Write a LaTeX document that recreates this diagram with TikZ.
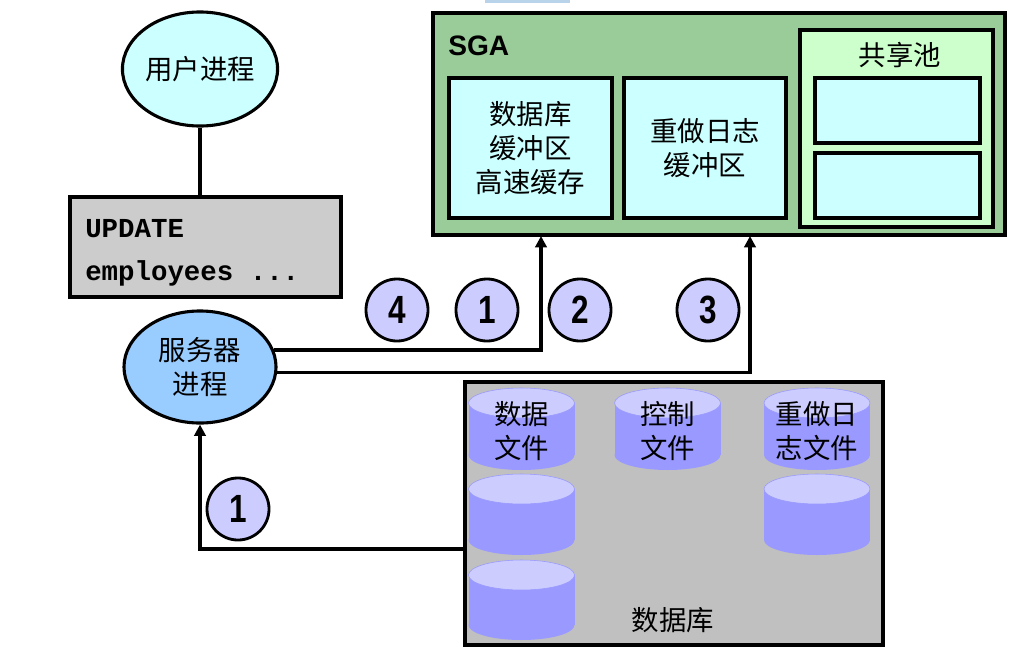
\documentclass[tikz,border=0pt]{standalone}
\usepackage{fontspec}
\setmainfont{Noto Sans CJK SC}
\newfontfamily\sgafont{Liberation Sans}
\newfontfamily\codefont{Liberation Mono}
\newfontfamily\numfont[FakeStretch=0.8]{Liberation Sans}
\usetikzlibrary{shapes.geometric,arrows.meta}

\definecolor{sgagreen}{HTML}{99CC99}
\definecolor{bufcyan}{HTML}{CCFFFF}
\definecolor{poolgreen}{HTML}{CCFFCC}
\definecolor{srvblue}{HTML}{99CCFF}
\definecolor{stepblue}{HTML}{CCCCFF}
\definecolor{diskbody}{HTML}{9999FF}
\definecolor{disktop}{HTML}{CCCCFF}
\definecolor{dbgray}{HTML}{C0C0C0}
\definecolor{topbar}{HTML}{B8D3EA}

% one data file drum: centre x, top y, bottom y (pixel units)
\newcommand{\dbdisk}[3]{%
  \fill[diskbody] (#1,#3-15) ellipse[x radius=53, y radius=15];
  \fill[diskbody] (#1-53,#2+15) rectangle (#1+53,#3-15);
  \filldraw[fill=disktop, draw=diskbody, thin] (#1,#2+15) ellipse[x radius=53, y radius=15];}

\begin{document}
\begin{tikzpicture}[x=0.025cm, y=-0.025cm,
  every node/.style={font=\fontsize{19.5}{24}\selectfont, align=center},
  proc/.style={ellipse, draw, line width=2.2pt, inner sep=0pt},
  buf/.style={draw, line width=2.8pt, fill=bufcyan, inner sep=0pt},
  stepno/.style={circle, draw, line width=2pt, fill=stepblue, minimum size=1.55cm, inner sep=0pt,
    font=\numfont\bfseries\fontsize{28}{28}\selectfont},
  wire/.style={line width=2.5pt},
  flow/.style={wire, -{Triangle[length=8pt,width=8pt]}}]
\useasboundingbox (0,0) rectangle (1024,657);
\fill[topbar] (485,0) rectangle (570,3);

% A) user process and its statement
\node[proc, fill=bufcyan, minimum width=3.85cm, minimum height=2.85cm] (usr) at (200,69) {用户进程};
\node[draw, line width=2.8pt, fill=black!20, minimum width=6.775cm, minimum height=2.5cm] (upd) at (205.5,247) {};
\node[anchor=west, inner sep=0pt, align=left, font=\codefont\bfseries\fontsize{19.5}{30.5}\selectfont]
  (updtxt) at (85,252.5) {UPDATE\\employees ...};
\node[proc, fill=srvblue, minimum width=3.8cm, minimum height=2.8cm] (srv) at (200,367) {服务器\\进程};

% B) SGA
\node[draw, line width=2.8pt, fill=sgagreen, minimum width=14.3cm, minimum height=5.55cm] (sga) at (719,124) {};
\node[anchor=west, inner sep=0pt, font=\sgafont\bfseries\fontsize{20}{20}\selectfont] (sgalbl) at (448,46) {SGA};
\node[buf, minimum width=4.075cm, minimum height=3.5cm] (dbc) at (530.5,148) {数据库\\缓冲区\\高速缓存};
\node[buf, minimum width=4.05cm, minimum height=3.5cm] (rlb) at (705,148) {重做日志\\缓冲区};
\node[buf, fill=poolgreen, minimum width=4.825cm, minimum height=4.925cm] (pool) at (896.5,128.5) {};
\node (pooltitle) at (900,55) {共享池};
\node[buf, minimum width=4.125cm, minimum height=1.625cm] (lib) at (897.5,110.5) {};
\node[buf, minimum width=4.125cm, minimum height=1.625cm] (dict) at (897.5,185.5) {};

% C) database files
\node[draw, line width=2.8pt, fill=dbgray, minimum width=10.45cm, minimum height=6.575cm] (db) at (674,513.5) {};
\dbdisk{521.5}{388}{470} \dbdisk{521.5}{474}{555} \dbdisk{521.5}{560}{640}
\dbdisk{667.5}{388}{470}
\dbdisk{817}{388}{470} \dbdisk{817}{474}{555}
\node (dfile) at (521.5,431) {数据\\文件};
\node (cfile) at (667.5,431) {控制\\文件};
\node (rfile) at (817,431) {重做日\\志文件};
\node (dblbl) at (673,620) {数据库};

% D) flows
\coordinate (sgain1) at (541,236);
\coordinate (sgain2) at (750,236);
\coordinate (dbout) at (465,549);
\draw[wire] (usr.south) -- (usr.south |- upd.north);
\draw[flow] (srv.13) -| (sgain1);
\draw[flow] (srv.-4.5) -| (sgain2);
\draw[flow] (dbout) -| (srv.south);

\node[stepno] (s4) at (397,310) {4};
\node[stepno] (s1a) at (487,310) {1};
\node[stepno] (s2) at (580,310) {2};
\node[stepno] (s3) at (708,310) {3};
\node[stepno] (s1b) at (238,509) {1};
\end{tikzpicture}
\end{document}
